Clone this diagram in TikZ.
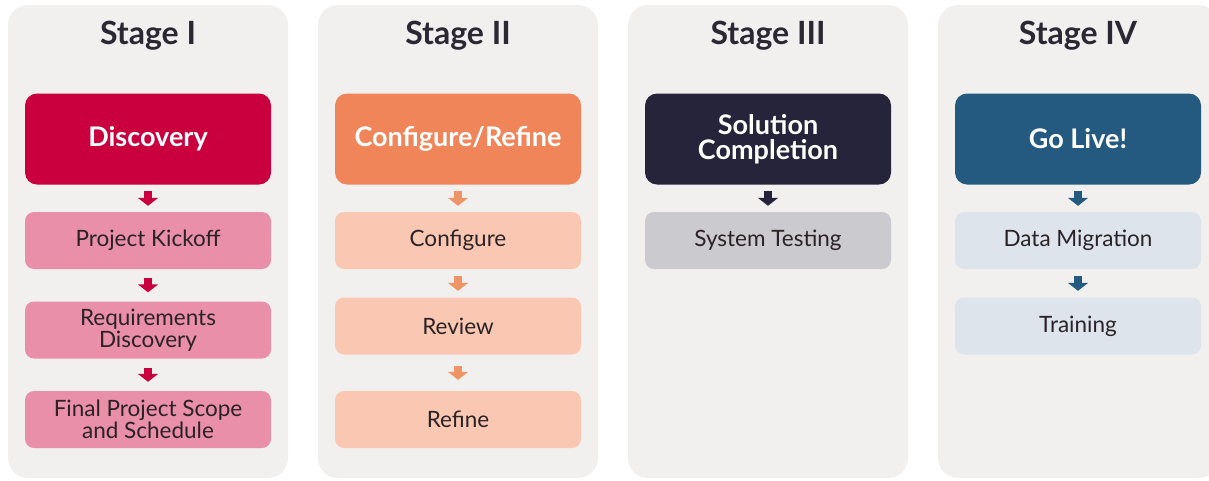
\documentclass[tikz,border=0pt]{standalone}
\usepackage{fontspec}
\setmainfont{Lato}
\usetikzlibrary{arrows.meta}

\definecolor{panelgray}{HTML}{F2F0EF}
\definecolor{headink}{HTML}{2A2933}
\definecolor{bodyink}{HTML}{2B2226}
\definecolor{crimson}{HTML}{C9003D}
\definecolor{pinkbox}{HTML}{E98FA9}
\definecolor{orangemain}{HTML}{F0855A}
\definecolor{orangearrow}{HTML}{EE9466}
\definecolor{peachbox}{HTML}{FAC8B2}
\definecolor{navydark}{HTML}{25243A}
\definecolor{graybox}{HTML}{CBCACF}
\definecolor{bluemain}{HTML}{245A80}
\definecolor{bluebox}{HTML}{DDE4EC}

\tikzset{
  panel/.style={fill=panelgray, rounded corners=20pt},
  stagehead/.style={font=\fontsize{32}{34}\selectfont\bfseries, text=headink},
  mainbox/.style={rounded corners=12pt, minimum width=246pt, minimum height=91pt,
    align=center, text=white, font=\fontsize{27}{25}\selectfont\bfseries, inner sep=0pt},
  subbox/.style={rounded corners=9pt, minimum width=246pt, minimum height=57pt,
    align=center, text=bodyink, font=\fontsize{22.5}{22}\selectfont, inner sep=0pt},
  flow/.style={line width=8pt, -{Triangle[width=20pt,length=8pt]},
    shorten <=#1, shorten >=#1},
  flow/.default=6pt
}

\begin{document}
\begin{tikzpicture}[x=1pt, y=-1pt]
  \useasboundingbox (0,0) rectangle (1209,480);

  % Panels and stage headings
  \foreach \px/\name/\title in {8/one/Stage I, 318/two/Stage II, 628/three/Stage III, 938/four/Stage IV}{
    \fill[panel] (\px,5) rectangle ++(280,473);
    \node[stagehead] (head-\name) at (\px+140,36) {\title};
  }

  % Stage I
  \node[mainbox, fill=crimson] (discovery) at (148,139) {Discovery};
  \node[subbox, fill=pinkbox] (kickoff) at (148,240.5) {Project Kickoff};
  \node[subbox, fill=pinkbox] (requirements) at (148,330) {Requirements\\Discovery};
  \node[subbox, fill=pinkbox] (scope) at (148,419.5) {Final Project Scope\\and Schedule};
  \draw[flow, crimson] (discovery) -- (kickoff);
  \draw[flow=9pt, crimson] (kickoff) -- (requirements);
  \draw[flow=9pt, crimson] (requirements) -- (scope);

  % Stage II
  \node[mainbox, fill=orangemain] (configrefine) at (458,139) {Configure/Refine};
  \node[subbox, fill=peachbox] (configure) at (458,240.5) {Configure};
  \node[subbox, fill=peachbox] (review) at (458,326) {Review};
  \node[subbox, fill=peachbox] (refine) at (458,419.5) {Refine};
  \draw[flow, orangearrow] (configrefine) -- (configure);
  \draw[flow=6.5pt, orangearrow] (configure) -- (review);
  \draw[flow=11pt, orangearrow] (review) -- (refine);

  % Stage III
  \node[mainbox, fill=navydark] (completion) at (768,139) {Solution\\Completion};
  \node[subbox, fill=graybox] (testing) at (768,240.5) {System Testing};
  \draw[flow, navydark] (completion) -- (testing);

  % Stage IV
  \node[mainbox, fill=bluemain] (golive) at (1078,139) {Go Live!};
  \node[subbox, fill=bluebox] (migration) at (1078,240.5) {Data Migration};
  \node[subbox, fill=bluebox] (training) at (1078,326) {Training};
  \draw[flow, bluemain] (golive) -- (migration);
  \draw[flow=6.5pt, bluemain] (migration) -- (training);
\end{tikzpicture}
\end{document}
